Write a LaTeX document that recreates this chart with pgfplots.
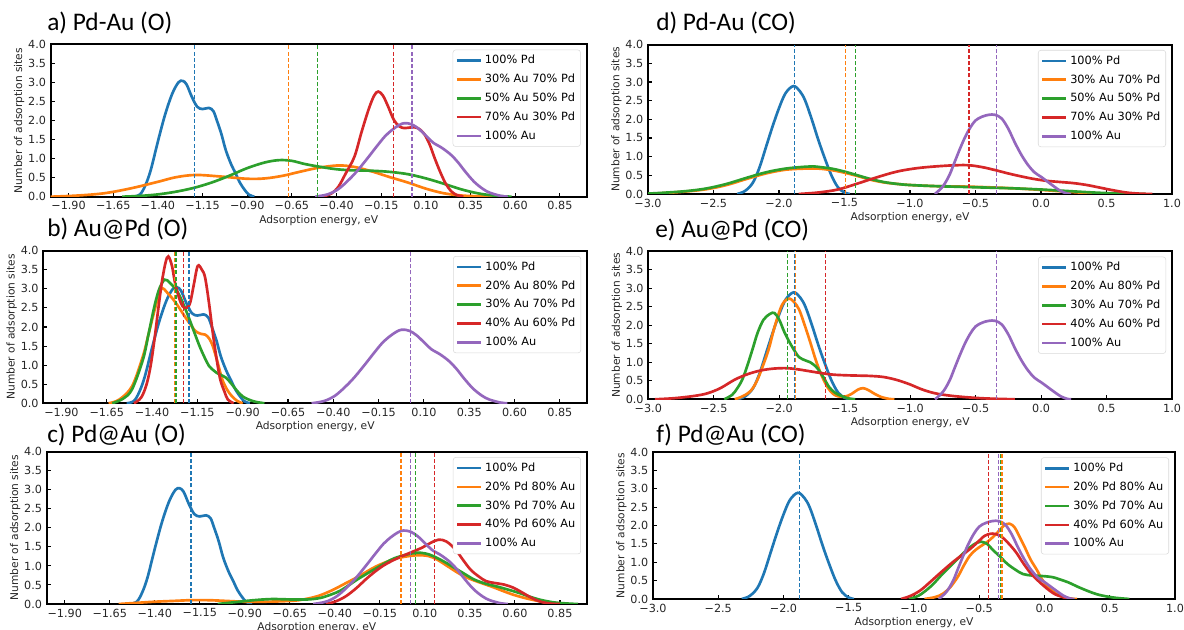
\documentclass[border=0pt]{standalone}
\usepackage{fontspec}
\setmainfont{DejaVu Sans}
\newfontfamily\titlefont{Carlito}
\usepackage{pgfplots}
\usepackage{pgfplotstable}
\pgfplotsset{compat=1.18}

\definecolor{tabblue}{HTML}{1F77B4}
\definecolor{taborange}{HTML}{FF7F0E}
\definecolor{tabgreen}{HTML}{2CA02C}
\definecolor{tabred}{HTML}{D62728}
\definecolor{tabpurple}{HTML}{9467BD}

% shared curves
\pgfplotstableread{
x y
-1.54 0
-1.50 0.06
-1.47 0.3
-1.44 0.7
-1.40 1.45
-1.36 2.15
-1.32 2.7
-1.285 3.0
-1.262 3.04
-1.24 2.95
-1.21 2.62
-1.18 2.36
-1.15 2.3
-1.115 2.33
-1.09 2.25
-1.07 2.0
-1.045 1.65
-1.02 1.22
-0.99 0.85
-0.965 0.61
-0.94 0.36
-0.913 0.17
-0.89 0.05
-0.86 0
}\PdO
\pgfplotstableread{
x y
-0.52 0
-0.45 0.06
-0.39 0.2
-0.33 0.45
-0.28 0.7
-0.22 1.05
-0.177 1.31
-0.13 1.58
-0.09 1.75
-0.05 1.88
-0.02 1.93
0.02 1.9
0.06 1.78
0.10 1.6
0.14 1.42
0.19 1.28
0.24 1.1
0.28 0.9
0.32 0.66
0.37 0.39
0.42 0.2
0.46 0.1
0.52 0.02
0.56 0
}\AuO
\pgfplotstableread{
x y
-2.32 0
-2.26 0.08
-2.2 0.3
-2.15 0.7
-2.1 1.25
-2.05 1.8
-2.0 2.3
-1.95 2.7
-1.89 2.89
-1.84 2.75
-1.80 2.5
-1.75 2.0
-1.70 1.45
-1.65 0.95
-1.60 0.5
-1.55 0.18
-1.50 0.04
-1.46 0
}\PdCO
\pgfplotstableread{
x y
-0.81 0
-0.75 0.2
-0.70 0.5
-0.66 0.85
-0.62 1.2
-0.58 1.52
-0.54 1.78
-0.50 1.97
-0.45 2.07
-0.40 2.12
-0.35 2.12
-0.30 2.02
-0.25 1.75
-0.20 1.38
-0.15 1.05
-0.10 0.78
-0.05 0.58
0.0 0.46
0.05 0.33
0.10 0.2
0.15 0.08
0.20 0.01
0.23 0
}\AuCO

\pgfplotsset{
  panel/.style={
    scale only axis, anchor=south west,
    ymin=0, ymax=4,
    ytick={0,0.5,1,1.5,2,2.5,3,3.5,4},
    yticklabels={0.0,0.5,1.0,1.5,2.0,2.5,3.0,3.5,4.0},
    tick align=inside, tick pos=left,
    major tick length=3pt,
    axis line style={line width=1.4pt},
    every tick/.style={black, line width=0.8pt},
    tick label style={font=\fontsize{8.4}{9}\selectfont, text=black!85},
    label style={font=\fontsize{8}{9}\selectfont, text=black!85},
    xlabel={Adsorption energy, eV},
    ylabel={Number of adsorption sites},
    xlabel shift=-3pt, ylabel shift=-4pt,
    legend style={at={(1,1)}, xshift=-4.5pt, yshift=-4pt, anchor=north east,
      draw=black!15, rounded corners=2pt, fill=white,
      font=\fontsize{8.5}{9.8}\selectfont, row sep=2.2pt, inner sep=2pt,
      /tikz/every even column/.append style={column sep=2pt}},
    legend cell align=left,
    legend image code/.code={\draw[#1] (0pt,0pt) -- (18pt,0pt);},
  },
  opanel/.style={panel, xmin=-2.0, xmax=1.0,
    xtick={-1.90,-1.65,-1.40,-1.15,-0.90,-0.65,-0.40,-0.15,0.10,0.35,0.60,0.85},
    xticklabels={−1.90,−1.65,−1.40,−1.15,−0.90,−0.65,−0.40,−0.15,0.10,0.35,0.60,0.85}},
  copanel/.style={panel, xmin=-3.0, xmax=1.0,
    xtick={-3,-2.5,-2,-1.5,-1,-0.5,0,0.5,1},
    xticklabels={−3.0,−2.5,−2.0,−1.5,−1.0,−0.5,0.0,0.5,1.0}},
  kde/.style={smooth, tension=0.55, line width=2pt, no markers},
  vl/.style={dash pattern=on 3pt off 1.6pt, line width=0.9pt, no markers, forget plot},
}

\begin{document}
\begin{tikzpicture}[x=0.75pt,y=0.75pt]
\path[use as bounding box] (0,0) rectangle (1184,630);

\begin{scope}[font=\titlefont\fontsize{19}{20}\selectfont]
\node[anchor=base west, inner sep=0] at (47,599) {a) Pd-Au (O)};
\node[anchor=base west, inner sep=0] at (47,393) {b) Au@Pd (O)};
\node[anchor=base west, inner sep=0] at (47,187) {c) Pd@Au (O)};
\node[anchor=base west, inner sep=0] at (656,599) {d) Pd-Au (CO)};
\node[anchor=base west, inner sep=0] at (655,392) {e) Au@Pd (CO)};
\node[anchor=base west, inner sep=0] at (656,187) {f) Pd@Au (CO)};
\end{scope}

% a) Pd-Au (O)
\begin{axis}[opanel, at={(38.03pt,324.98pt)}, width=402pt, height=114.3pt]
\addplot[kde, tabblue] table {\PdO};
\addlegendentry{100\% Pd}
\addplot[kde, taborange] coordinates {(-2.0,0.0) (-1.85,0.03) (-1.70,0.09) (-1.55,0.22) (-1.40,0.39) (-1.30,0.51) (-1.19,0.57) (-1.05,0.53) (-0.90,0.47) (-0.80,0.48) (-0.70,0.55) (-0.60,0.66) (-0.50,0.76) (-0.39,0.82) (-0.30,0.78) (-0.20,0.66) (-0.10,0.51) (0.0,0.37) (0.10,0.21) (0.20,0.09) (0.30,0.03) (0.40,0.01) (0.50,0)};
\addlegendentry{30\% Au 70\% Pd}
\addplot[kde, tabgreen] coordinates {(-1.60,0) (-1.50,0.02) (-1.40,0.06) (-1.30,0.13) (-1.20,0.23) (-1.10,0.37) (-1.00,0.55) (-0.90,0.75) (-0.80,0.9) (-0.72,0.96) (-0.65,0.94) (-0.58,0.86) (-0.50,0.79) (-0.40,0.72) (-0.30,0.69) (-0.20,0.68) (-0.10,0.65) (0.0,0.59) (0.10,0.48) (0.20,0.34) (0.30,0.19) (0.40,0.08) (0.50,0.02) (0.58,0)};
\addlegendentry{50\% Au 50\% Pd}
\addplot[kde, tabred] coordinates {(-0.48,0) (-0.43,0.08) (-0.39,0.26) (-0.35,0.6) (-0.30,1.05) (-0.26,1.7) (-0.22,2.3) (-0.19,2.65) (-0.167,2.76) (-0.14,2.65) (-0.11,2.35) (-0.08,2.02) (-0.05,1.85) (-0.02,1.8) (0.02,1.82) (0.055,1.8) (0.09,1.65) (0.12,1.38) (0.15,1.0) (0.18,0.65) (0.21,0.35) (0.24,0.15) (0.27,0.05) (0.31,0)};
\addlegendentry{70\% Au 30\% Pd}
\addplot[kde, tabpurple] table {\AuO};
\addlegendentry{100\% Au}
\addplot[vl, tabblue] coordinates {(-1.196,0) (-1.196,4)};
\addplot[vl, taborange] coordinates {(-0.667,0) (-0.667,4)};
\addplot[vl, tabgreen] coordinates {(-0.509,0) (-0.509,4)};
\addplot[vl, tabred] coordinates {(-0.083,0) (-0.083,4)};
\addplot[vl, tabpurple] coordinates {(0.022,0) (0.022,4)};
\end{axis}

% b) Au@Pd (O)
\begin{axis}[opanel, at={(32.48pt,170.03pt)}, width=407.8pt, height=114.45pt]
\addplot[kde, tabblue] table {\PdO};
\addlegendentry{100\% Pd}
\addplot[kde, taborange] coordinates {(-1.64,0) (-1.58,0.1) (-1.51,0.45) (-1.45,1.24) (-1.42,1.8) (-1.39,2.37) (-1.365,2.8) (-1.345,3.02) (-1.32,2.92) (-1.283,2.72) (-1.25,2.5) (-1.22,2.28) (-1.19,2.08) (-1.16,1.89) (-1.13,1.82) (-1.107,1.8) (-1.085,1.7) (-1.065,1.5) (-1.04,1.1) (-1.013,0.63) (-0.985,0.35) (-0.96,0.19) (-0.93,0.06) (-0.90,0)};
\addlegendentry{20\% Au 80\% Pd}
\addplot[kde, tabgreen] coordinates {(-1.62,0) (-1.56,0.12) (-1.51,0.37) (-1.45,1.15) (-1.42,1.8) (-1.387,2.54) (-1.36,3.0) (-1.33,3.24) (-1.30,3.15) (-1.262,2.94) (-1.23,2.63) (-1.20,2.28) (-1.17,1.9) (-1.138,1.5) (-1.11,1.2) (-1.086,0.98) (-1.06,0.86) (-1.044,0.8) (-1.02,0.74) (-0.992,0.67) (-0.96,0.5) (-0.93,0.32) (-0.90,0.18) (-0.868,0.1) (-0.83,0.04) (-0.78,0)};
\addlegendentry{30\% Au 70\% Pd}
\addplot[kde, tabred] coordinates {(-1.50,0) (-1.46,0.15) (-1.43,0.5) (-1.408,0.98) (-1.386,1.7) (-1.366,2.46) (-1.345,3.2) (-1.325,3.7) (-1.31,3.85) (-1.29,3.6) (-1.273,3.15) (-1.25,2.75) (-1.231,2.54) (-1.21,2.5) (-1.19,2.63) (-1.17,3.1) (-1.148,3.6) (-1.125,3.5) (-1.107,3.29) (-1.085,2.6) (-1.065,1.85) (-1.045,1.2) (-1.024,0.63) (-1.0,0.3) (-0.982,0.1) (-0.95,0)};
\addlegendentry{40\% Au 60\% Pd}
\addplot[kde, tabpurple] table {\AuO};
\addlegendentry{100\% Au}
\addplot[vl, tabblue] coordinates {(-1.196,0) (-1.196,4)};
\addplot[vl, taborange] coordinates {(-1.277,0) (-1.277,4)};
\addplot[vl, tabgreen] coordinates {(-1.268,0) (-1.268,4)};
\addplot[vl, tabred] coordinates {(-1.227,0) (-1.227,4)};
\addplot[vl, tabpurple] coordinates {(0.025,0) (0.025,4)};
\end{axis}

% c) Pd@Au (O)
\begin{axis}[opanel, at={(35.03pt,19.5pt)}, width=405.2pt, height=114.2pt]
\addplot[kde, tabblue] table {\PdO};
\addlegendentry{100\% Pd}
\addplot[kde, taborange] coordinates {(-1.60,0) (-1.50,0.03) (-1.40,0.06) (-1.30,0.08) (-1.20,0.1) (-1.10,0.1) (-1.00,0.08) (-0.90,0.06) (-0.80,0.06) (-0.70,0.07) (-0.60,0.1) (-0.50,0.2) (-0.42,0.35) (-0.35,0.52) (-0.27,0.72) (-0.17,0.99) (-0.07,1.18) (0.0,1.25) (0.06,1.28) (0.12,1.26) (0.17,1.16) (0.23,0.98) (0.29,0.8) (0.35,0.66) (0.42,0.54) (0.48,0.44) (0.54,0.33) (0.60,0.23) (0.67,0.14) (0.74,0.07) (0.80,0.03) (0.88,0)};
\addlegendentry{20\% Pd 80\% Au}
\addplot[kde, tabgreen] coordinates {(-1.05,0) (-0.95,0.05) (-0.85,0.1) (-0.75,0.13) (-0.65,0.12) (-0.55,0.12) (-0.48,0.16) (-0.42,0.25) (-0.37,0.35) (-0.32,0.5) (-0.27,0.66) (-0.17,0.94) (-0.07,1.2) (0.04,1.34) (0.10,1.33) (0.145,1.26) (0.2,1.13) (0.25,0.99) (0.31,0.82) (0.375,0.64) (0.44,0.53) (0.50,0.46) (0.56,0.38) (0.63,0.28) (0.69,0.18) (0.75,0.1) (0.82,0.04) (0.90,0.01) (0.95,0)};
\addlegendentry{30\% Pd 70\% Au}
\addplot[kde, tabred] coordinates {(-0.45,0) (-0.40,0.06) (-0.34,0.2) (-0.28,0.42) (-0.23,0.64) (-0.18,0.84) (-0.13,1.01) (-0.08,1.14) (-0.02,1.27) (0.03,1.37) (0.08,1.47) (0.13,1.6) (0.176,1.69) (0.22,1.64) (0.27,1.43) (0.31,1.17) (0.354,0.9) (0.40,0.72) (0.44,0.6) (0.49,0.55) (0.54,0.51) (0.59,0.43) (0.63,0.33) (0.67,0.22) (0.71,0.12) (0.75,0.05) (0.80,0.01) (0.85,0)};
\addlegendentry{40\% Pd 60\% Au}
\addplot[kde, tabpurple] table {\AuO};
\addlegendentry{100\% Au}
\addplot[vl, tabblue] coordinates {(-1.199,0) (-1.199,4)};
\addplot[vl, taborange] coordinates {(-0.033,0) (-0.033,4)};
\addplot[vl, tabpurple] coordinates {(0.019,0) (0.019,4)};
\addplot[vl, tabgreen] coordinates {(0.046,0) (0.046,4)};
\addplot[vl, tabred] coordinates {(0.155,0) (0.155,4)};
\end{axis}

% d) Pd-Au (CO)
\begin{axis}[copanel, at={(486pt,327pt)}, width=393pt, height=112pt]
\addplot[kde, tabblue] table {\PdCO};
\addlegendentry{100\% Pd}
\addplot[kde, taborange] coordinates {(-3.0,0.0) (-2.85,0.03) (-2.7,0.07) (-2.55,0.13) (-2.4,0.24) (-2.25,0.4) (-2.1,0.55) (-1.95,0.65) (-1.8,0.68) (-1.7,0.68) (-1.6,0.64) (-1.5,0.57) (-1.4,0.48) (-1.3,0.38) (-1.2,0.31) (-1.1,0.27) (-1.0,0.24) (-0.8,0.21) (-0.6,0.2) (-0.4,0.18) (-0.2,0.15) (0.0,0.11) (0.2,0.06) (0.4,0.02) (0.6,0.0)};
\addlegendentry{30\% Au 70\% Pd}
\addplot[kde, tabgreen] coordinates {(-3.0,0.01) (-2.85,0.04) (-2.7,0.08) (-2.55,0.15) (-2.4,0.27) (-2.25,0.43) (-2.1,0.58) (-1.95,0.68) (-1.8,0.73) (-1.74,0.74) (-1.6,0.68) (-1.5,0.6) (-1.4,0.5) (-1.3,0.4) (-1.2,0.32) (-1.1,0.27) (-1.0,0.24) (-0.8,0.21) (-0.6,0.19) (-0.4,0.17) (-0.2,0.15) (0.0,0.12) (0.2,0.08) (0.4,0.04) (0.6,0.01) (0.8,0.0)};
\addlegendentry{50\% Au 50\% Pd}
\addplot[kde, tabred] coordinates {(-1.85,0) (-1.7,0.04) (-1.55,0.12) (-1.4,0.28) (-1.25,0.45) (-1.1,0.6) (-0.95,0.69) (-0.8,0.74) (-0.65,0.77) (-0.55,0.77) (-0.45,0.72) (-0.35,0.64) (-0.25,0.55) (-0.15,0.47) (-0.05,0.4) (0.05,0.35) (0.15,0.32) (0.25,0.29) (0.35,0.24) (0.45,0.17) (0.55,0.1) (0.65,0.04) (0.75,0.01) (0.85,0)};
\addlegendentry{70\% Au 30\% Pd}
\addplot[kde, tabpurple] table {\AuCO};
\addlegendentry{100\% Au}
\addplot[vl, tabblue] coordinates {(-1.884,0) (-1.884,4)};
\addplot[vl, taborange] coordinates {(-1.494,0) (-1.494,4)};
\addplot[vl, tabgreen] coordinates {(-1.419,0) (-1.419,4)};
\addplot[vl, tabred] coordinates {(-0.549,0) (-0.549,4)};
\addplot[vl, tabpurple] coordinates {(-0.341,0) (-0.341,4)};
\end{axis}

% e) Au@Pd (CO)
\begin{axis}[copanel, at={(486.23pt,173.03pt)}, width=392.8pt, height=111pt]
\addplot[kde, tabblue] table {\PdCO};
\addlegendentry{100\% Pd}
\addplot[kde, taborange] coordinates {(-2.34,0) (-2.28,0.08) (-2.22,0.22) (-2.17,0.5) (-2.12,0.95) (-2.08,1.36) (-2.04,1.9) (-1.993,2.43) (-1.96,2.65) (-1.92,2.72) (-1.885,2.62) (-1.849,2.43) (-1.81,2.05) (-1.763,1.54) (-1.72,1.05) (-1.676,0.64) (-1.63,0.32) (-1.59,0.15) (-1.55,0.08) (-1.50,0.07) (-1.45,0.14) (-1.40,0.26) (-1.36,0.3) (-1.32,0.25) (-1.273,0.15) (-1.22,0.06) (-1.16,0.01) (-1.12,0)};
\addlegendentry{20\% Au 80\% Pd}
\addplot[kde, tabgreen] coordinates {(-2.42,0) (-2.36,0.12) (-2.32,0.3) (-2.28,0.55) (-2.24,0.95) (-2.20,1.4) (-2.165,1.8) (-2.12,2.15) (-2.07,2.31) (-2.036,2.33) (-2.0,2.15) (-1.965,1.85) (-1.935,1.63) (-1.89,1.35) (-1.849,1.14) (-1.80,1.05) (-1.763,1.0) (-1.735,0.93) (-1.705,0.82) (-1.66,0.58) (-1.619,0.33) (-1.575,0.18) (-1.532,0.1) (-1.48,0.03) (-1.42,0)};
\addlegendentry{30\% Au 70\% Pd}
\addplot[kde, tabred] coordinates {(-2.95,0) (-2.8,0.03) (-2.65,0.09) (-2.55,0.16) (-2.45,0.3) (-2.34,0.53) (-2.24,0.68) (-2.14,0.78) (-2.04,0.83) (-1.94,0.84) (-1.84,0.8) (-1.72,0.73) (-1.6,0.67) (-1.5,0.65) (-1.4,0.64) (-1.3,0.63) (-1.2,0.6) (-1.1,0.52) (-1.0,0.4) (-0.92,0.28) (-0.82,0.17) (-0.7,0.1) (-0.55,0.05) (-0.4,0.02) (-0.2,0.0)};
\addlegendentry{40\% Au 60\% Pd}
\addplot[kde, tabpurple] table {\AuCO};
\addlegendentry{100\% Au}
\addplot[vl, tabblue] coordinates {(-1.884,0) (-1.884,4)};
\addplot[vl, taborange] coordinates {(-1.876,0) (-1.876,4)};
\addplot[vl, tabgreen] coordinates {(-1.94,0) (-1.94,4)};
\addplot[vl, tabred] coordinates {(-1.647,0) (-1.647,4)};
\addplot[vl, tabpurple] coordinates {(-0.338,0) (-0.338,4)};
\end{axis}

% f) Pd@Au (CO)
\begin{axis}[copanel, at={(489.75pt,23.25pt)}, width=391.5pt, height=110.25pt]
\addplot[kde, tabblue] table {\PdCO};
\addlegendentry{100\% Pd}
\addplot[kde, taborange] coordinates {(-0.92,0) (-0.84,0.05) (-0.78,0.14) (-0.72,0.33) (-0.66,0.63) (-0.62,0.9) (-0.574,1.17) (-0.53,1.33) (-0.487,1.44) (-0.44,1.55) (-0.40,1.67) (-0.35,1.85) (-0.31,2.0) (-0.268,2.05) (-0.23,1.95) (-0.195,1.72) (-0.15,1.4) (-0.108,1.08) (-0.06,0.8) (-0.02,0.54) (0.02,0.35) (0.067,0.2) (0.11,0.1) (0.155,0.05) (0.20,0.01) (0.25,0)};
\addlegendentry{20\% Pd 80\% Au}
\addplot[kde, tabgreen] coordinates {(-1.04,0) (-0.96,0.1) (-0.866,0.36) (-0.79,0.65) (-0.72,0.9) (-0.65,1.15) (-0.574,1.4) (-0.52,1.53) (-0.487,1.56) (-0.44,1.5) (-0.40,1.35) (-0.34,1.15) (-0.283,0.95) (-0.22,0.79) (-0.166,0.68) (-0.1,0.64) (-0.05,0.63) (0.0,0.62) (0.067,0.59) (0.12,0.53) (0.184,0.45) (0.25,0.34) (0.33,0.22) (0.40,0.13) (0.475,0.07) (0.55,0.03) (0.65,0)};
\addlegendentry{30\% Pd 70\% Au}
\addplot[kde, tabred] coordinates {(-1.10,0) (-1.03,0.08) (-0.953,0.23) (-0.88,0.45) (-0.808,0.68) (-0.75,0.86) (-0.69,1.04) (-0.63,1.2) (-0.574,1.35) (-0.52,1.52) (-0.458,1.72) (-0.40,1.78) (-0.34,1.72) (-0.283,1.54) (-0.22,1.28) (-0.166,0.99) (-0.11,0.72) (-0.05,0.5) (0.0,0.34) (0.038,0.23) (0.08,0.13) (0.125,0.07) (0.17,0.02) (0.21,0)};
\addlegendentry{40\% Pd 60\% Au}
\addplot[kde, tabpurple] table {\AuCO};
\addlegendentry{100\% Au}
\addplot[vl, tabblue] coordinates {(-1.88,0) (-1.88,4)};
\addplot[vl, tabred] coordinates {(-0.43,0) (-0.43,4)};
\addplot[vl, tabpurple] coordinates {(-0.35,0) (-0.35,4)};
\addplot[vl, tabgreen] coordinates {(-0.335,0) (-0.335,4)};
\addplot[vl, taborange] coordinates {(-0.326,0) (-0.326,4)};
\end{axis}
\end{tikzpicture}
\end{document}
